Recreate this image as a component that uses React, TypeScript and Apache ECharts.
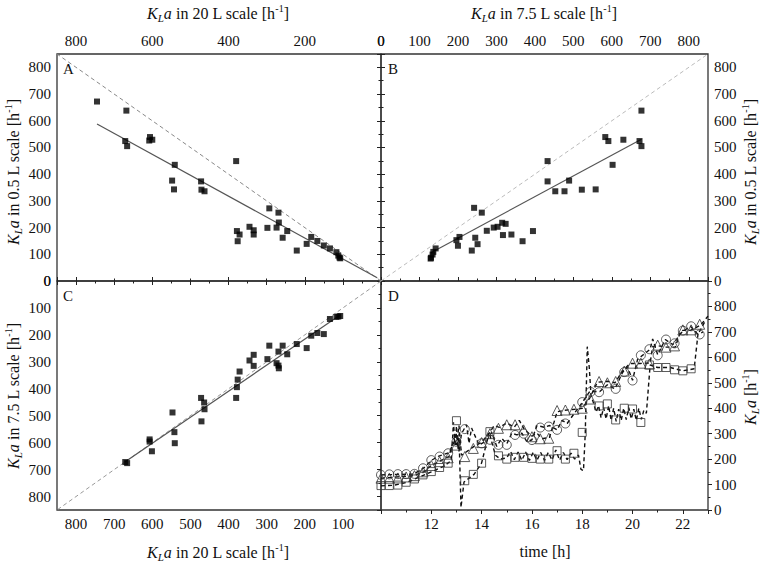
import React, { useEffect, useRef } from 'react';
import * as echarts from 'echarts';

const FONT = "'Liberation Serif', 'Times New Roman', serif";

// Panel A: [KLa 20 L, KLa 0.5 L]
const panelA: [number, number][] = [
  [745, 672], [668, 638], [671, 524], [666, 505], [608, 526], [606, 539], [600, 529],
  [541, 435], [548, 376], [543, 343], [472, 373], [471, 342], [463, 336], [380, 449],
  [378, 187], [376, 149], [371, 174], [345, 203], [334, 190], [334, 174], [298, 199],
  [293, 272], [269, 256], [268, 219], [274, 200], [258, 162], [246, 187], [221, 114],
  [195, 139], [183, 165], [167, 150], [150, 133], [134, 122], [117, 108], [112, 95],
  [109, 88], [107, 85],
];
// Panel B: [KLa 7.5 L, KLa 0.5 L]
const panelB: [number, number][] = [
  [677, 638], [677, 505], [672, 524], [583, 539], [591, 524], [630, 529], [602, 435],
  [433, 449], [433, 373], [489, 376], [522, 342], [558, 343], [453, 336], [477, 336],
  [242, 274], [262, 256], [395, 187], [275, 188], [293, 200], [303, 203], [315, 218],
  [324, 214], [317, 172], [339, 174], [368, 149], [245, 162], [251, 138], [236, 114],
  [204, 165], [196, 153], [200, 132], [142, 122], [136, 109], [134, 99], [130, 87], [129, 84],
];
// Panel C: [KLa 20 L, KLa 7.5 L]
const panelC: [number, number][] = [
  [671, 672], [666, 676], [607, 588], [607, 596], [601, 632], [547, 488], [542, 561],
  [541, 602], [472, 434], [471, 521], [464, 451], [463, 476], [380, 434], [378, 394],
  [376, 366], [371, 336], [345, 295], [334, 274], [334, 315], [298, 290], [293, 240],
  [274, 305], [269, 314], [268, 324], [269, 262], [258, 240], [246, 272], [221, 234],
  [195, 249], [183, 203], [167, 193], [150, 197], [134, 141], [117, 133], [112, 132], [107, 130],
];
const identity: [number, number][] = [[0, 0], [850, 850]];
const fitA: [number, number][] = [[745, 588], [10, 12]];
const fitB: [number, number][] = [[130, 106], [677, 531]];
const fitC: [number, number][] = [[672, 672], [107, 126]];

// Panel D: time [h], KLa [h-1]
const dSquares: [number, number][] = [
  [10.0, 96], [10.33, 96], [10.67, 98], [11.0, 109], [11.33, 122], [11.67, 138], [12.0, 151],
  [12.33, 167], [12.67, 184], [13.0, 351], [13.33, 115], [13.67, 140], [14.0, 184], [14.33, 308],
  [14.67, 213], [15.0, 200], [15.33, 207], [15.67, 207], [16.0, 203], [16.33, 200], [16.67, 200],
  [17.0, 233], [17.33, 200], [17.67, 223], [18.0, 305], [18.67, 409], [19.0, 417], [19.33, 354],
  [19.67, 400], [20.0, 397], [20.33, 344], [20.67, 570], [21.0, 560], [21.33, 560], [21.67, 551],
  [22.0, 547], [22.33, 555],
];
const dCircles: [number, number][] = [
  [10.0, 138], [10.33, 140], [10.67, 141], [11.0, 141], [11.33, 142], [11.67, 164], [12.0, 196],
  [12.33, 210], [12.67, 223], [13.0, 268], [13.33, 318], [14.0, 262], [14.33, 276], [14.67, 256],
  [15.0, 256], [15.33, 295], [15.67, 300], [16.0, 275], [16.33, 324], [16.67, 328], [17.0, 315],
  [17.33, 340], [18.0, 424], [18.33, 464], [18.67, 463], [19.33, 476], [19.67, 542], [20.0, 509],
  [20.33, 608], [20.67, 632], [21.0, 608], [21.33, 670], [21.67, 655], [22.0, 705], [22.33, 722],
  [22.67, 690],
];
const dTriangles: [number, number][] = [
  [10.0, 125], [10.33, 125], [10.67, 126], [11.0, 130], [11.33, 135], [11.67, 150], [12.0, 175],
  [12.33, 190], [12.67, 205], [13.0, 255], [13.33, 210], [13.67, 242], [14.0, 265], [14.33, 300],
  [14.67, 321], [15.0, 335], [15.33, 335], [15.67, 315], [16.0, 288], [16.33, 280], [16.67, 282],
  [17.0, 391], [17.33, 393], [17.67, 396], [18.0, 400], [18.33, 436], [18.67, 505], [19.0, 500],
  [19.33, 505], [19.67, 546], [20.0, 577], [20.33, 577], [20.67, 574], [21.0, 648], [21.33, 640],
  [21.67, 645], [22.0, 708], [22.33, 708], [22.67, 730],
];
const dLineLow: [number, number][] = [
  [10.0, 95], [10.5, 97], [11.0, 108], [11.5, 128], [12.0, 150], [12.5, 172], [12.8, 195],
  [12.88, 345], [12.95, 250], [13.0, 330], [13.06, 240], [13.1, 300], [13.18, 10], [13.3, 110],
  [13.7, 140], [14.0, 185], [14.3, 305], [14.55, 215], [14.75, 200], [15.0, 205], [15.15, 230],
  [15.3, 198], [15.45, 228], [15.6, 195], [15.75, 228], [15.9, 195], [16.05, 226], [16.2, 195],
  [16.35, 226], [16.5, 195], [16.65, 226], [16.8, 196], [16.95, 236], [17.1, 196], [17.25, 226],
  [17.4, 198], [17.55, 224], [17.7, 200], [17.85, 216], [17.95, 160], [18.05, 155], [18.12, 300],
  [18.2, 642], [18.28, 560], [18.35, 450], [18.45, 420], [18.55, 385], [18.65, 410], [18.75, 362],
  [18.85, 402], [18.95, 358], [19.05, 410], [19.15, 352], [19.25, 400], [19.35, 348], [19.45, 396],
  [19.55, 352], [19.65, 400], [19.75, 355], [19.85, 402], [19.95, 358], [20.05, 396], [20.15, 352],
  [20.25, 400], [20.35, 356], [20.45, 392], [20.55, 380], [20.7, 570], [21.0, 560], [21.5, 560],
  [22.0, 547], [22.45, 555], [22.6, 690], [22.8, 700],
];
const dLineMid: [number, number][] = [
  [10.0, 138], [11.3, 141], [11.7, 165], [12.0, 195], [12.3, 212], [12.7, 225], [12.9, 265],
  [13.0, 300], [13.1, 230], [13.2, 300], [13.4, 335], [13.5, 262], [13.6, 322], [13.9, 255],
  [14.2, 272], [14.4, 305], [14.6, 250], [14.8, 282], [15.0, 260], [15.2, 302], [15.4, 295],
  [15.6, 302], [15.8, 268], [16.0, 276], [16.2, 332], [16.5, 325], [16.7, 332], [17.0, 315],
  [17.2, 352], [17.4, 340], [17.7, 382], [18.0, 422], [18.3, 466], [18.7, 466], [19.0, 492],
  [19.3, 476], [19.6, 540], [19.8, 562], [20.0, 510], [20.2, 592], [20.4, 608], [20.7, 632],
  [20.8, 672], [21.0, 610], [21.3, 670], [21.6, 650], [21.9, 692], [22.0, 702], [22.3, 722],
  [22.6, 690], [22.9, 745],
];
const dLineHigh: [number, number][] = [
  [10.0, 125], [11.3, 135], [11.7, 150], [12.0, 175], [12.3, 190], [12.7, 210], [12.9, 282],
  [13.0, 255], [13.1, 332], [13.2, 215], [13.5, 236], [13.7, 250], [14.0, 266], [14.3, 302],
  [14.5, 332], [14.7, 325], [15.0, 342], [15.3, 326], [15.5, 352], [15.7, 316], [16.0, 290],
  [16.2, 302], [16.4, 280], [16.7, 286], [16.9, 352], [17.0, 386], [17.3, 392], [17.7, 396],
  [18.0, 400], [18.3, 440], [18.6, 502], [19.0, 506], [19.3, 500], [19.6, 546], [19.9, 576],
  [20.3, 576], [20.7, 578], [20.8, 642], [21.0, 646], [21.3, 640], [21.7, 640], [21.9, 700],
  [22.0, 706], [22.3, 706], [22.7, 726], [23.0, 762],
];

const INK = '#222';

const tickStyle = {
  axisTick: { show: true, length: 4, lineStyle: { color: INK, width: 1 } },
  minorTick: { show: true, splitNumber: 2, length: 2.5, lineStyle: { color: INK, width: 1 } },
  axisLine: { show: false },
  splitLine: { show: false },
};

function axis(gridIndex: number, position: string, min: number, max: number, interval: number, inverse: boolean, hideMin: boolean) {
  return {
    type: 'value',
    gridIndex,
    position,
    min,
    max,
    interval,
    inverse,
    ...tickStyle,
    axisLabel: {
      show: true,
      margin: 6,
      color: '#111',
      fontFamily: FONT,
      fontSize: 15,
      showMinLabel: !hideMin,
      showMaxLabel: false,
    },
  };
}

const rich = {
  i: { fontFamily: FONT, fontSize: 16, fontStyle: 'italic', lineHeight: 20, verticalAlign: 'middle', fill: '#111', color: '#111' },
  n: { fontFamily: FONT, fontSize: 16, lineHeight: 20, verticalAlign: 'middle', fill: '#111', color: '#111' },
  sub: { fontFamily: FONT, fontSize: 11, fontStyle: 'italic', lineHeight: 11, verticalAlign: 'bottom', fill: '#111', color: '#111' },
  sup: { fontFamily: FONT, fontSize: 10, lineHeight: 10, verticalAlign: 'top', fill: '#111', color: '#111' },
};

function klaTitle(rest: string) {
  return '{i|K}{sub|L}{i|a}{n|' + rest + '}{sup|-1}{n|]}';
}

function titleText(text: string, x: number, y: number, rotated: boolean) {
  return {
    type: 'text',
    x,
    y,
    rotation: rotated ? Math.PI / 2 : 0,
    silent: true,
    style: {
      text,
      rich,
      font: '16px ' + FONT,
      fill: '#111',
      align: 'center',
      verticalAlign: 'middle',
      textAlign: 'center',
      textVerticalAlign: 'middle',
    },
  };
}

function letter(t: string, x: number, y: number) {
  return {
    type: 'text',
    x,
    y,
    silent: true,
    style: {
      text: t,
      font: '15px ' + FONT,
      fill: '#111',
      align: 'left',
      verticalAlign: 'middle',
      textAlign: 'left',
      textVerticalAlign: 'middle',
    },
  };
}

function scatterBlack(xi: number, data: [number, number][]) {
  return {
    type: 'scatter',
    xAxisIndex: xi,
    yAxisIndex: xi,
    data,
    symbol: 'rect',
    symbolSize: 6,
    itemStyle: { color: '#000' },
    z: 5,
  };
}

function straight(xi: number, data: [number, number][], color: string, dashed: boolean, width: number) {
  return {
    type: 'line',
    xAxisIndex: xi,
    yAxisIndex: xi,
    data,
    showSymbol: false,
    symbol: 'none',
    lineStyle: { color, width, type: dashed ? [4, 3] : 'solid' },
    z: 3,
  };
}

function hollow(data: [number, number][], symbol: string, size: number) {
  return {
    type: 'scatter',
    xAxisIndex: 3,
    yAxisIndex: 3,
    data,
    symbol,
    symbolSize: size,
    itemStyle: { color: 'rgba(255,255,255,0)', borderColor: '#333', borderWidth: 1 },
    z: 6,
  };
}

function dashLine(data: [number, number][]) {
  return {
    type: 'line',
    xAxisIndex: 3,
    yAxisIndex: 3,
    data,
    showSymbol: false,
    symbol: 'none',
    lineStyle: { color: '#111', width: 1.4, type: [4, 3] },
    z: 4,
  };
}

const gridStyle = { show: true, borderColor: '#333', borderWidth: 1.3, backgroundColor: 'transparent', containLabel: false };

export default function App() {
  const ref = useRef<HTMLDivElement>(null);
  useEffect(() => {
    document.body.style.margin = '0';
    const chart = echarts.init(ref.current as HTMLDivElement, null, { renderer: 'svg' });
    const option: any = {
      animation: false,
      backgroundColor: '#fff',
      textStyle: { fontFamily: FONT },
      grid: [
        { left: 57, top: 54, width: 324, height: 227, ...gridStyle },
        { left: 381, top: 54, width: 327, height: 227, ...gridStyle },
        { left: 57, top: 281, width: 324, height: 229, ...gridStyle },
        { left: 381, top: 281, width: 327, height: 229, ...gridStyle },
      ],
      xAxis: [
        axis(0, 'top', 0, 850, 200, true, false),
        axis(1, 'top', 0, 850, 100, false, false),
        axis(2, 'bottom', 0, 850, 100, true, true),
        axis(3, 'bottom', 10, 23, 2, false, true),
      ],
      yAxis: [
        axis(0, 'left', 0, 850, 100, false, false),
        axis(1, 'right', 0, 850, 100, false, false),
        axis(2, 'left', 0, 850, 100, true, false),
        axis(3, 'right', 0, 900, 100, false, false),
      ],
      series: [
        straight(0, identity, '#888', true, 1),
        straight(0, fitA, '#555', false, 1.2),
        scatterBlack(0, panelA),
        straight(1, identity, '#bbb', true, 1),
        straight(1, fitB, '#555', false, 1.2),
        scatterBlack(1, panelB),
        straight(2, identity, '#999', true, 1),
        straight(2, fitC, '#555', false, 1.2),
        scatterBlack(2, panelC),
        dashLine(dLineLow),
        dashLine(dLineMid),
        dashLine(dLineHigh),
        hollow(dSquares, 'rect', 8),
        hollow(dCircles, 'circle', 9),
        hollow(dTriangles, 'triangle', 10),
      ],
      graphic: [
        titleText(klaTitle(' in 20 L scale [h'), 218, 13, false),
        titleText(klaTitle(' in 7.5 L scale [h'), 544, 13, false),
        titleText(klaTitle(' in 20 L scale [h'), 218, 552, false),
        titleText('{n|time [h]}', 545, 551, false),
        titleText(klaTitle(' in 0.5 L scale [h'), 13, 172, true),
        titleText(klaTitle(' in 7.5 L scale [h'), 13, 396, true),
        titleText(klaTitle(' in 0.5 L scale [h'), 750, 172, true),
        titleText(klaTitle(' [h'), 750, 397, true),
        letter('A', 63, 69),
        letter('B', 388, 69),
        letter('C', 63, 296),
        letter('D', 388, 296),
      ],
    };
    chart.setOption(option);
    return () => chart.dispose();
  }, []);
  return <div ref={ref} style={{ width: 765, height: 564 }} />;
}
